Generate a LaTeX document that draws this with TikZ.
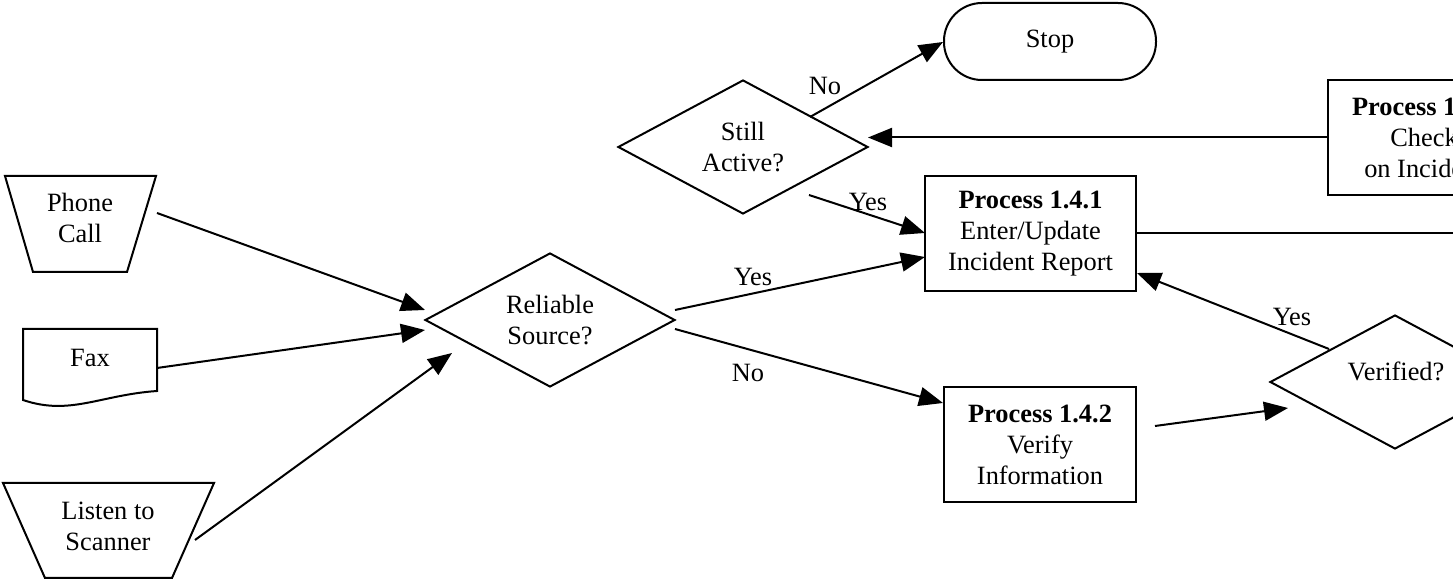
\documentclass[tikz,border=0pt]{standalone}
\usepackage{fontspec}
\setmainfont{Liberation Serif}
\usetikzlibrary{arrows.meta,shapes.geometric,calc}
\begin{document}
\begin{tikzpicture}[x=0.5pt,y=-0.5pt,
  every node/.style={font=\fontsize{13.2}{15.5}\selectfont, align=center, inner sep=0pt},
  shp/.style={draw, line width=1pt, line join=miter},
  dia/.style={draw, line width=1pt, diamond, minimum width=125pt, minimum height=67pt, aspect=2},
  procbox/.style={draw, line width=1pt, rectangle, minimum height=57.5pt},
  arr/.style={line width=1pt, -{Triangle[length=12pt,width=9.5pt]}},
  plainline/.style={line width=1pt}]
\useasboundingbox (0,0) rectangle (1453,582);
\clip (0,0) rectangle (1453,582);

% inputs
\node (phone) at (80,218) {Phone\\Call};
\draw[shp] (5,176) -- (156,176) -- (127,272) -- (33,272) -- cycle;
\node (fax) at (90,358) {Fax};
\draw[shp] (23,329) -- (157,329) -- (157,391) .. controls (100,395) and (70,416) .. (23,400) -- cycle;
\node (scan) at (108,526) {Listen to\\Scanner};
\draw[shp] (3,483) -- (214,483) -- (172,578) -- (45,578) -- cycle;

% decisions
\node[dia] (reliable) at (550,320) {Reliable\\Source?};
\node[dia] (still) at (743,147) {Still\\Active?};
\node[dia] (verified) at (1395,382) {};
\node (verifiedtext) at (1396,371) {Verified?};

% terminator
\node[draw, line width=1pt, rounded corners=19pt, minimum width=106pt, minimum height=38.5pt] (stop) at (1050,41.5) {Stop};

% processes
\node[procbox, minimum width=105.5pt] (p141) at (1030.5,233.5) {\textbf{Process 1.4.1}\\Enter/Update\\Incident Report};
\node[procbox, minimum width=96pt] (p142) at (1040,444.5) {\textbf{Process 1.4.2}\\Verify\\Information};
\node[procbox, minimum width=96pt] (p143) at (1424,137.5) {\textbf{Process 1.4.3}\\Check\\on Incident};

% connectors
\draw[arr] ($(phone)+(77,-5)$) -- ($(reliable)+(-125,-10)$);
\draw[arr] ($(fax)+(67,10)$) -- ($(reliable)+(-125,10)$);
\draw[arr] ($(scan)+(87,14)$) -- ($(reliable)+(-98,33)$);
\draw[arr] ($(reliable)+(125,-10)$) -- ($(p141)+(-105.5,23.5)$);
\draw[arr] ($(reliable)+(125,9)$) -- ($(p142)+(-97,-41.5)$);
\draw[arr] ($(p142)+(115,-18.5)$) -- ($(verified)+(-107,26)$);
\draw[arr] ($(verified)+(-66,-33)$) -- ($(p141)+(106.5,39.5)$);
\draw[arr] ($(still)+(66,48)$) -- ($(p141)+(-105.5,-0.5)$);
\draw[arr] ($(still)+(67,-30)$) -- ($(stop)+(-107,0.5)$);
\draw[arr] (p143.west) -- ($(still)+(125,-9.5)$);
\coordinate (offright) at (1500,233.5);
\draw[plainline] (p141.east) -- (offright);

% labels
\node (yes1) at (753,277) {Yes};
\node (no1) at (748,373) {No};
\node (yes2) at (1292,317) {Yes};
\node (yes3) at (868,202) {Yes};
\node (no2) at (825,86) {No};
\end{tikzpicture}
\end{document}
